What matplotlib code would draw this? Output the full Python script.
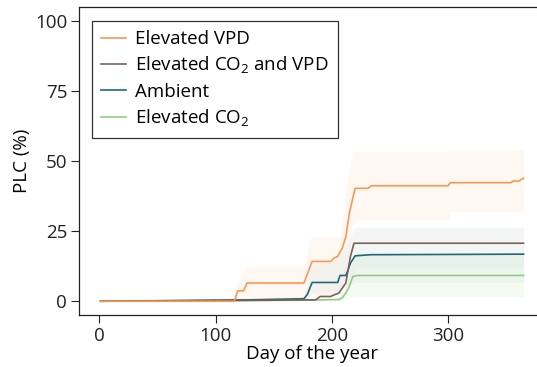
import matplotlib
matplotlib.use("Agg")
import matplotlib.pyplot as plt

plt.rcParams.update({
    "font.family": ["Open Sans", "DejaVu Sans"],
    "mathtext.fontset": "custom",
    "mathtext.rm": "Open Sans",
    "font.size": 13.5,
})

# median PLC curves per treatment (day of year, %)
vpd_day = [1, 116, 119, 124, 127, 176, 183, 199, 202, 205, 209, 212, 215, 220, 231, 234, 300, 302, 354, 356, 361, 365]
vpd_plc = [0, 0, 3.7, 3.7, 6.5, 6.5, 14.2, 14.2, 15.4, 16.0, 19.0, 23.0, 31.4, 40.3, 40.3, 41.2, 41.2, 42.3, 42.3, 42.9, 42.9, 43.9]

co2vpd_day = [1, 128, 186, 190, 199, 202, 206, 208, 212, 214, 216, 219, 365]
co2vpd_plc = [0, 0.3, 0.5, 1.7, 1.7, 2.3, 2.9, 4.1, 6.5, 11.2, 16.0, 20.7, 20.7]

amb_day = [1, 128, 176, 179, 183, 205, 207, 212, 214, 216, 220, 233, 365]
amb_plc = [0, 0.5, 0.9, 2.5, 6.7, 6.7, 9.2, 9.2, 11.2, 13.6, 16.2, 16.6, 16.8]

co2_day = [1, 180, 206, 209, 212, 215, 218, 222, 365]
co2_plc = [0, 0.4, 0.6, 1.2, 2.9, 5.3, 8.8, 9.2, 9.2]

# uncertainty envelopes
vpd_band_day = [117, 127, 176, 182, 207, 212, 218, 225, 300, 302, 365]
vpd_band_lo = [0, 0, 0, 2, 3, 10, 27, 29, 29, 32, 32]
vpd_band_hi = [5, 12.4, 12.4, 23, 23, 40, 53.5, 53.5, 53.5, 54, 54]

amb_band_day = [176, 183, 205, 212, 220, 365]
amb_band_lo = [0, 3, 4, 5, 6.7, 6.7]
amb_band_hi = [2, 13, 15, 20, 26.4, 26.4]

co2vpd_band_day = [185, 205, 212, 220, 365]
co2vpd_band_lo = [0, 0.5, 3, 12, 12]
co2vpd_band_hi = [3, 5, 15, 26.4, 26.4]

co2_band_day = [205, 212, 220, 365]
co2_band_lo = [0, 0.5, 1.7, 1.7]
co2_band_hi = [1, 5, 17, 17]

C_VPD = "#f59a52"
C_CO2VPD = "#7a625a"
C_AMB = "#1d6b77"
C_CO2 = "#93cb84"

fig = plt.figure(figsize=(5.37, 3.67), dpi=100)
ax = fig.add_axes([79 / 537, 0.141, 466 / 537, 0.840])

ax.fill_between(vpd_band_day, vpd_band_lo, vpd_band_hi, color=C_VPD, alpha=0.07, lw=0)
ax.fill_between(co2_band_day, co2_band_lo, co2_band_hi, color=C_CO2, alpha=0.09, lw=0)
ax.fill_between(amb_band_day, amb_band_lo, amb_band_hi, color=C_AMB, alpha=0.04, lw=0)
ax.fill_between(co2vpd_band_day, co2vpd_band_lo, co2vpd_band_hi, color=C_CO2VPD, alpha=0.02, lw=0)

ax.plot(co2_day, co2_plc, color=C_CO2, lw=1.2, label="Elevated CO$_2$")
ax.plot(amb_day, amb_plc, color=C_AMB, lw=1.2, label="Ambient")
ax.plot(co2vpd_day, co2vpd_plc, color=C_CO2VPD, lw=1.2, label="Elevated CO$_2$ and VPD")
ax.plot(vpd_day, vpd_plc, color=C_VPD, lw=1.2, label="Elevated VPD")

ax.set_xlim(-17.6, 383.4)
ax.set_ylim(-5, 105)
ax.set_xticks([0, 100, 200, 300])
ax.set_yticks([0, 25, 50, 75, 100])
ax.tick_params(direction="out", length=6, width=0.8, colors="#222222", labelsize=13.5, pad=2.5)
for s in ax.spines.values():
    s.set_linewidth(0.9)
    s.set_color("#222222")
ax.set_xlabel("Day of the year", fontsize=13.5, labelpad=0)
ax.set_ylabel("PLC (%)", fontsize=13.5, labelpad=3)

handles, labels = ax.get_legend_handles_labels()
order = [3, 2, 1, 0]
leg = ax.legend([handles[i] for i in order], [labels[i] for i in order],
                loc="upper left", bbox_to_anchor=(0.028, 0.955), fontsize=13.5,
                frameon=True, fancybox=False, edgecolor="#333333", framealpha=1,
                handlelength=1.3, handletextpad=0.5, labelspacing=0.36,
                borderpad=0.5, borderaxespad=0)
leg.get_frame().set_linewidth(0.9)

fig.savefig("out.png", dpi=100)
